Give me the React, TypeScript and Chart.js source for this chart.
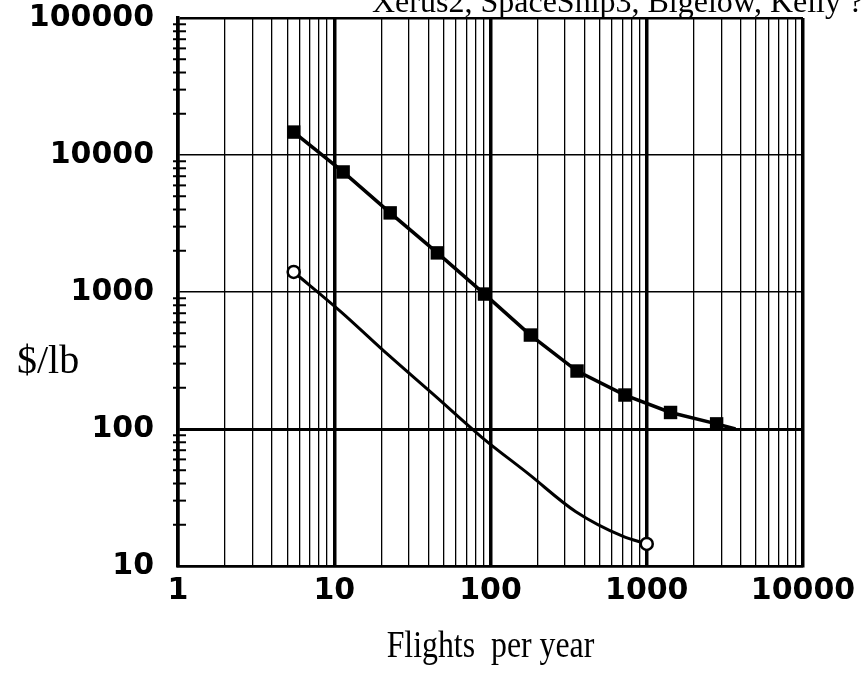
import React, { useEffect, useRef } from 'react';
import { Chart, registerables } from 'chart.js';

Chart.register(...registerables);

// Data
const flightsA = [5.5, 11.4, 22.8, 45.7, 91.6, 180, 358, 725, 1420, 2800, 3700];
const costA = [14700, 7520, 3780, 1930, 966, 485, 265, 177, 132, 109, 100];
const flightsB = [5.5, 11, 22, 44, 88, 175, 350, 700, 1000];
const costB = [1400, 720, 350, 175, 87, 47, 25, 16.5, 14.5];

const xDecades = [1, 10, 100, 1000, 10000];
const yDecades = [10, 100, 1000, 10000, 100000];
const xTickLabels = ['1', '10', '100', '1000', '10000'];
const yTickLabels = ['10', '100', '1000', '10000', '100000'];
const multipliers = [1, 2, 3, 4, 5, 6, 7, 8, 9];

const titleText = 'Xerus2, SpaceShip3, Bigelow, Kelly ?';
const yTitle = '$/lb';
const xTitle = 'Flights  per year';

function allTicks(decades: number[]) {
  const out: number[] = [];
  for (let i = 0; i < decades.length - 1; i++) {
    for (const m of multipliers) out.push(decades[i] * m);
  }
  out.push(decades[decades.length - 1]);
  return out;
}

const isDecade = (v: number) => Math.abs(Math.log10(v) - Math.round(Math.log10(v))) < 1e-9;

export default function App() {
  const ref = useRef<HTMLCanvasElement | null>(null);

  useEffect(() => {
    if (!ref.current) return;
    const xTicks = allTicks(xDecades);
    const yTicks = allTicks(yDecades);

    const extras = {
      id: 'extras',
      afterDraw(chart: any) {
        const ctx = chart.ctx;
        const ys = chart.scales.y;
        const { left, right } = chart.chartArea;
        ctx.save();
        ctx.strokeStyle = '#000';
        ctx.lineWidth = 2;
        for (let i = 0; i < yDecades.length - 1; i++) {
          for (const m of multipliers.slice(1)) {
            const py = ys.getPixelForValue(yDecades[i] * m);
            ctx.beginPath();
            ctx.moveTo(left - 5, py);
            ctx.lineTo(left + 8, py);
            ctx.stroke();
          }
        }
        ctx.fillStyle = '#000';
        ctx.font = '32px "Liberation Serif", "Times New Roman", serif';
        ctx.textBaseline = 'alphabetic';
        ctx.textAlign = 'left';
        ctx.fillText(titleText, 372, 12);
        ctx.font = '40px "Liberation Serif", "Times New Roman", serif';
        ctx.fillText(yTitle, 17, 373);
        // x-axis title (slightly condensed, as in the reference)
        ctx.font = '37px "Liberation Serif", "Times New Roman", serif';
        ctx.textAlign = 'center';
        ctx.translate((left + right) / 2, 657);
        ctx.scale(0.86, 1);
        ctx.fillText(xTitle, 0, 0);
        ctx.restore();
      },
    };

    const chart = new Chart(ref.current, {
      type: 'scatter',
      data: {
        datasets: [
          {
            data: flightsA.map((x, i) => ({ x, y: costA[i] })),
            showLine: true,
            borderColor: '#000',
            backgroundColor: '#000',
            borderWidth: 3.5,
            pointStyle: 'rect',
            pointRadius: flightsA.map((_, i) => (i === flightsA.length - 1 ? 0 : 9.5)),
            pointBorderWidth: 0,
            pointBackgroundColor: '#000',
          },
          {
            data: flightsB.map((x, i) => ({ x, y: costB[i] })),
            showLine: true,
            borderColor: '#000',
            backgroundColor: '#fff',
            borderWidth: 3,
            cubicInterpolationMode: 'monotone',
            pointStyle: 'circle',
            pointRadius: flightsB.map((_, i) => (i === 0 || i === flightsB.length - 1 ? 6 : 0)),
            pointBorderWidth: 2.5,
            pointBorderColor: '#000',
            pointBackgroundColor: '#fff',
          },
        ],
      },
      options: {
        animation: false,
        responsive: false,
        devicePixelRatio: 1,
        layout: { padding: { left: 0, right: 62, top: 18, bottom: 0 } },
        plugins: { legend: { display: false }, tooltip: { enabled: false }, title: { display: false } },
        scales: {
          x: {
            type: 'logarithmic',
            min: 1,
            max: 10000,
            afterBuildTicks: (s: any) => {
              s.ticks = xTicks.map((v) => ({ value: v }));
            },
            afterFit: (s: any) => {
              s.height = 109;
              s.paddingLeft = 0;
              s.paddingRight = 0;
            },
            grid: {
              color: '#000',
              drawTicks: false,
              lineWidth: (c: any) => (c.tick && isDecade(c.tick.value) ? 3.5 : 1.3),
            },
            border: { display: true, color: '#000', width: 2.5 },
            ticks: {
              autoSkip: false,
              maxRotation: 0,
              padding: 7,
              color: '#000',
              font: { family: '"DejaVu Sans", sans-serif', size: 30, weight: 'bold' },
              callback: (v: any) => {
                const i = xDecades.indexOf(Number(v));
                return i >= 0 ? xTickLabels[i] : '';
              },
            },
          },
          y: {
            type: 'logarithmic',
            min: 10,
            max: 100000,
            afterBuildTicks: (s: any) => {
              s.ticks = yTicks.map((v) => ({ value: v }));
            },
            afterFit: (s: any) => {
              s.width = 178;
              s.paddingTop = 0;
              s.paddingBottom = 0;
            },
            grid: {
              color: '#000',
              drawTicks: false,
              lineWidth: (c: any) => {
                if (!c.tick) return 0;
                const v = c.tick.value;
                if (v === 100) return 3;
                if (v === 100000 || v === 10) return 2.5;
                return isDecade(v) ? 1.5 : 0;
              },
            },
            border: { display: true, color: '#000', width: 3.5 },
            ticks: {
              autoSkip: false,
              padding: 24,
              color: '#000',
              font: { family: '"DejaVu Sans", sans-serif', size: 30, weight: 'bold' },
              callback: (v: any) => {
                const i = yDecades.indexOf(Number(v));
                return i >= 0 ? yTickLabels[i] : '';
              },
            },
          },
        },
      },
      plugins: [extras],
    } as any);

    return () => chart.destroy();
  }, []);

  return (
    <div style={{ position: 'absolute', left: 0, top: 0, width: 865, height: 675, background: '#fff' }}>
      <canvas ref={ref} width={865} height={675} style={{ width: 865, height: 675, display: 'block' }} />
    </div>
  );
}
